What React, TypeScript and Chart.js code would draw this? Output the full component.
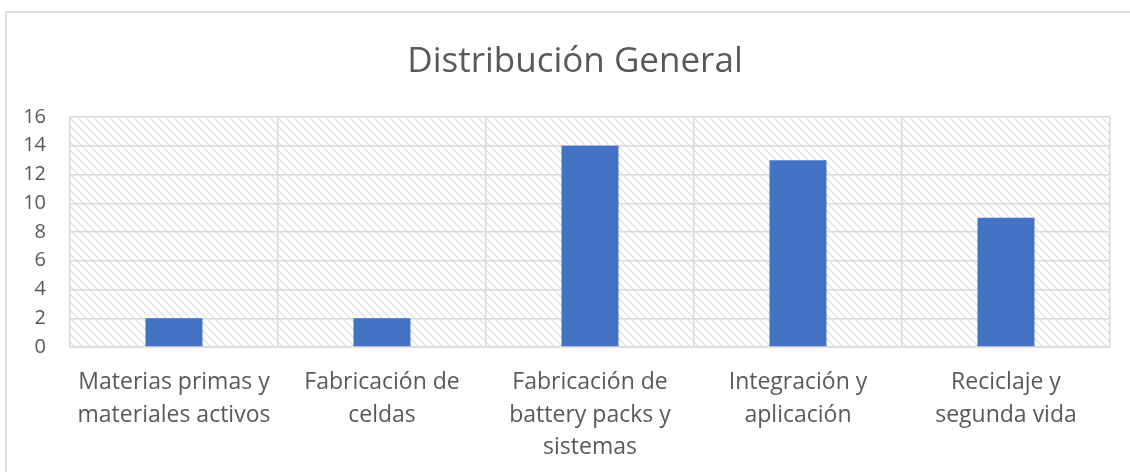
import React, { useEffect, useRef } from "react";
import { Chart, registerables } from "chart.js";

Chart.register(...registerables);

const categories: string[][] = [
  ["Materias primas y", "materiales activos"],
  ["Fabricación de", "celdas"],
  ["Fabricación de", "battery packs y", "sistemas"],
  ["Integración y", "aplicación"],
  ["Reciclaje y", "segunda vida"],
];
const values: number[] = [2, 2, 14, 13, 9];
const titleText = "Distribución General";
const yMax = 16;
const yStep = 2;

const FONT = "'Open Sans', sans-serif";
const TEXT = "#595959";
const GRID = "#d9d9d9";

function makePattern(): CanvasPattern | string {
  const c = document.createElement("canvas");
  c.width = 8;
  c.height = 8;
  const g = c.getContext("2d");
  if (!g) return "#fff";
  g.fillStyle = "#ffffff";
  g.fillRect(0, 0, 8, 8);
  g.strokeStyle = "#e0e0e0";
  g.lineWidth = 1.3;
  g.beginPath();
  g.moveTo(-1, -1);
  g.lineTo(9, 9);
  g.moveTo(-9, -1);
  g.lineTo(1, 9);
  g.moveTo(7, -1);
  g.lineTo(17, 9);
  g.stroke();
  const p = g.createPattern(c, "repeat");
  return p || "#fff";
}

const hatchPlugin = {
  id: "hatch",
  beforeDraw(chart: any) {
    const { ctx, chartArea } = chart;
    if (!chartArea) return;
    ctx.save();
    ctx.fillStyle = makePattern();
    ctx.fillRect(
      chartArea.left,
      chartArea.top,
      chartArea.right - chartArea.left,
      chartArea.bottom - chartArea.top
    );
    ctx.restore();
  },
};

const titlePlugin = {
  id: "frameTitle",
  afterDraw(chart: any) {
    const { ctx } = chart;
    ctx.save();
    ctx.fillStyle = TEXT;
    ctx.font = `35px ${FONT}`;
    ctx.textAlign = "center";
    ctx.textBaseline = "middle";
    ctx.fillText(titleText, 575, 62);
    ctx.restore();
  },
};

export default function App() {
  const ref = useRef<HTMLCanvasElement | null>(null);

  useEffect(() => {
    if (!ref.current) return;
    const chart = new Chart(ref.current, {
      type: "bar",
      data: {
        labels: categories,
        datasets: [
          {
            data: values,
            backgroundColor: "#4472C4",
            borderWidth: 0,
            barPercentage: 0.274,
            categoryPercentage: 1,
          },
        ],
      },
      options: {
        animation: false,
        responsive: false,
        maintainAspectRatio: false,
        layout: { padding: { left: 0, right: 20, top: 117, bottom: 0 } },
        plugins: {
          legend: { display: false },
          tooltip: { enabled: false },
          title: { display: false },
        },
        scales: {
          x: {
            grid: {
              color: GRID,
              lineWidth: 1.5,
              drawTicks: false,
              offset: true,
            },
            border: { display: true, color: GRID, width: 1.5 },
            ticks: {
              color: TEXT,
              font: { family: FONT, size: 23, lineHeight: 1.42 },
              padding: 19,
              maxRotation: 0,
              autoSkip: false,
            },
            afterFit(scale: any) {
              scale.height = 125;
            },
          },
          y: {
            min: 0,
            max: yMax,
            grid: { color: GRID, lineWidth: 1.5, drawTicks: false },
            border: { display: false },
            ticks: {
              stepSize: yStep,
              color: TEXT,
              font: { family: FONT, size: 20 },
              padding: 24,
            },
            afterFit(scale: any) {
              scale.width = 70;
            },
          },
        },
      },
      plugins: [hatchPlugin, titlePlugin],
    });
    return () => chart.destroy();
  }, []);

  return (
    <div
      style={{
        position: "fixed",
        left: 0,
        top: 0,
        width: 1130,
        height: 472,
        background: "#fff",
        overflow: "hidden",
      }}
    >
      <div
        style={{
          position: "absolute",
          left: 5,
          top: 11,
          width: 1200,
          height: 600,
          border: "2px solid #dedede",
          boxSizing: "border-box",
        }}
      />
      <canvas
        ref={ref}
        width={1130}
        height={472}
        style={{ position: "absolute", left: 0, top: 0 }}
      />
    </div>
  );
}
